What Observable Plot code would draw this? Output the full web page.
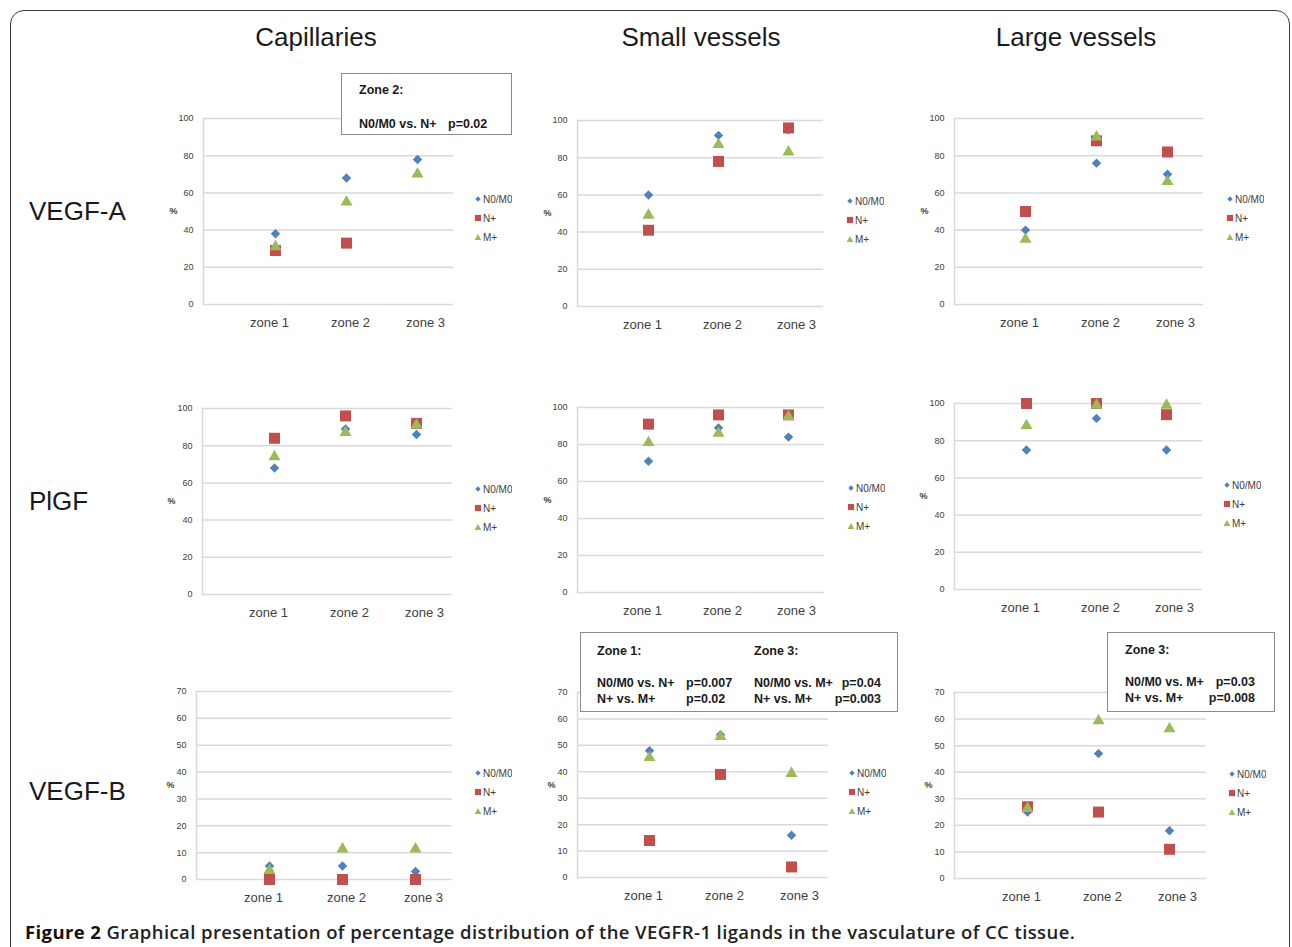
<!DOCTYPE html>
<html>
<head>
<meta charset="utf-8">
<script src="https://cdn.jsdelivr.net/npm/d3@7"></script>
<script src="https://cdn.jsdelivr.net/npm/@observablehq/plot@0.6"></script>
<style>
html, body { margin: 0; padding: 0; background: #fff; }
body { width: 1292px; height: 947px; overflow: hidden; position: relative; font-family: "Liberation Sans", Arial, sans-serif; }
#fig { position: absolute; left: 0; top: 0; width: 1292px; height: 947px; }
.border { position: absolute; left: 10px; top: 10px; width: 1280px; height: 980px; border: 1.5px solid #3a3a3a; border-radius: 14px; box-sizing: border-box; }
.coltitle { position: absolute; font-size: 26px; color: #1a1a1a; transform: translate(-50%, -50%); white-space: nowrap; }
.rowlabel { position: absolute; font-size: 26px; color: #1a1a1a; transform: translateY(-50%); white-space: nowrap; }
.panel { position: absolute; }
.legwrap { position: absolute; }
.leg-swatch { height: 19px; padding-bottom: 0; }
.leg-swatch > svg { margin-right: 1px; }
.note { position: absolute; background: #fff; border: 1.5px solid #8a8a8a; box-sizing: border-box; }
.notecol { position: absolute; font-weight: bold; font-size: 12.5px; color: #1a1a1a; white-space: nowrap; }
.noterow { display: flex; }
.caption { position: absolute; left: 25px; top: 931px; transform: translateY(-50%); font-family: "Open Sans", sans-serif; font-size: 18.5px; letter-spacing: 0.4px; font-weight: 600; color: #222; white-space: nowrap; }
.caption b { font-weight: 700; color: #111; }
</style>
</head>
<body>
<div id="fig"></div>
<script>
// ---------------- data ----------------
const zones = ["zone 1", "zone 2", "zone 3"];
const groups = ["N0/M0", "N+", "M+"];
const ligands = ["VEGF-A", "PlGF", "VEGF-B"];
const vessels = ["Capillaries", "Small vessels", "Large vessels"];
const ticksPct100 = [0, 20, 40, 60, 80, 100];
const ticksPct70 = [0, 10, 20, 30, 40, 50, 60, 70];

// values per panel: [N0/M0, N+, M+], each by zone 1..3 (%)
const vegfA_capillaries = [[38, 68, 78], [29, 33, null], [32, 56, 71]];
const vegfA_small       = [[60, 92, 95], [41, 78, 96], [50, 88, 84]];
const vegfA_large       = [[40, 76, 70], [50, 88, 82], [36, 91, 67]];
const plgf_capillaries  = [[68, 89, 86], [84, 96, 92], [75, 88, 92]];
const plgf_small        = [[71, 89, 84], [91, 96, 96], [82, 87, 96]];
const plgf_large        = [[75, 92, 75], [100, 100, 94], [89, 100, 100]];
const vegfB_capillaries = [[5, 5, 3], [0, 0, 0], [4, 12, 12]];
const vegfB_small       = [[48, 54, 16], [14, 39, 4], [46, 54, 40]];
const vegfB_large       = [[25, 47, 18], [27, 25, 11], [27, 60, 57]];

// annotation texts
const note1 = [{head: "Zone 2:", rows: [["N0/M0 vs. N+", "p=0.02"]]}];
const note2 = [
  {head: "Zone 1:", rows: [["N0/M0 vs. N+", "p=0.007"], ["N+ vs. M+", "p=0.02"]]},
  {head: "Zone 3:", rows: [["N0/M0 vs. M+", "p=0.04"], ["N+ vs. M+", "p=0.003"]]}
];
const note3 = [{head: "Zone 3:", rows: [["N0/M0 vs. M+", "p=0.03"], ["N+ vs. M+", "p=0.008"]]}];

const captionBold = "Figure 2";
const captionText = " Graphical presentation of percentage distribution of the VEGFR-1 ligands in the vasculature of CC tissue.";

// ---------------- style / layout ----------------
const colors = ["#4F81BD", "#C0504D", "#9BBB59"];
const diamondSym = {draw(ctx, size) { const u = Math.sqrt(size) * 0.43; ctx.moveTo(0, -u); ctx.lineTo(u, 0); ctx.lineTo(0, u); ctx.lineTo(-u, 0); ctx.closePath(); }};
const squareSym = {draw(ctx, size) { const h = Math.sqrt(size) / 2; ctx.rect(-h, -h, 2 * h, 2 * h); }};
const triangleSym = {draw(ctx, size) { const u = Math.sqrt(size); ctx.moveTo(0, -0.47 * u); ctx.lineTo(0.55 * u, 0.47 * u); ctx.lineTo(-0.55 * u, 0.47 * u); ctx.closePath(); }};
const symbols = [diamondSym, squareSym, triangleSym];

const panelData = [vegfA_capillaries, vegfA_small, vegfA_large, plgf_capillaries, plgf_small, plgf_large, vegfB_capillaries, vegfB_small, vegfB_large];
const panelTicks = [ticksPct100, ticksPct100, ticksPct100, ticksPct100, ticksPct100, ticksPct100, ticksPct70, ticksPct70, ticksPct70];
// plotting-area frames [left, top, right, bottom]
const frames = [
  [203, 118, 453, 304], [577, 120, 823, 306], [954, 118, 1203, 304],
  [202, 408, 452, 594], [577, 407, 824, 592], [954, 403, 1202, 589],
  [196, 691, 452, 879], [577, 692, 828, 877], [954, 692, 1206, 878]
];
const pctDx = [-34, -34, -34, -35, -34, -35, -30, -30, -30];
const legendPos = [[478, 199], [850, 201], [1230, 199], [478, 489], [851, 488], [1227, 485], [478, 773], [852, 773], [1232, 774]];
const labelDx = [-6, 4, 8];
const colTitlePos = [[316, 37], [701, 37], [1076, 37]];
const rowLabelPos = [[29, 211], [29, 501], [29, 791]];
const notes = [
  {texts: note1, box: [341, 73, 512, 135], top: 8, lh: 17, cols: [{left: 17, width: 89, align: "start"}]},
  {texts: note2, box: [580, 632, 898, 712], top: 10, lh: 16, cols: [{left: 16, width: 89, align: "start"}, {left: 173, width: 127, align: "end"}]},
  {texts: note3, box: [1107, 632, 1275, 712], top: 9, lh: 16, cols: [{left: 17, width: 130, align: "end"}]}
];

const fig = document.getElementById("fig");
const border = document.createElement("div");
border.className = "border";
fig.appendChild(border);

vessels.forEach((v, i) => {
  const d = document.createElement("div");
  d.className = "coltitle";
  d.textContent = v;
  d.style.left = colTitlePos[i][0] + "px";
  d.style.top = colTitlePos[i][1] + "px";
  fig.appendChild(d);
});
ligands.forEach((l, i) => {
  const d = document.createElement("div");
  d.className = "rowlabel";
  d.textContent = l;
  d.style.left = rowLabelPos[i][0] + "px";
  d.style.top = rowLabelPos[i][1] + "px";
  fig.appendChild(d);
});

const mL = 50, mR = 8, mT = 10, mB = 36;
panelData.forEach((vals, i) => {
  const [L, T, R, B] = frames[i];
  const W = R - L, H = B - T;
  const ticks = panelTicks[i];
  const rows = [];
  groups.forEach((g, si) => zones.forEach((z, zi) => {
    const v = vals[si][zi];
    if (v != null) rows.push({group: g, zone: z, value: v});
  }));
  const plot = Plot.plot({
    width: W + mL + mR,
    height: H + mT + mB,
    marginLeft: mL, marginRight: mR, marginTop: mT, marginBottom: mB,
    style: {fontFamily: "'Liberation Sans', Arial, sans-serif", color: "#404040", background: "transparent", overflow: "visible"},
    x: {type: "point", domain: zones, padding: 0, insetLeft: W * 0.286, insetRight: W * 0.143},
    y: {domain: [ticks[0], ticks[ticks.length - 1]]},
    color: {domain: groups, range: colors},
    symbol: {domain: groups, range: symbols},
    marks: [
      Plot.ruleY(ticks, {stroke: "#d9d9d9", strokeWidth: 1.5}),
      Plot.frame({anchor: "left", stroke: "#d9d9d9", strokeWidth: 1.5}),
      Plot.axisY({ticks, tickSize: 0, tickPadding: 10, fontSize: 9, label: null}),
      ...zones.map((z, k) => Plot.axisX([z], {tickSize: 0, tickPadding: 13, dx: labelDx[k], fontSize: 13, label: null})),
      Plot.text(["%"], {text: d => d, frameAnchor: "left", dx: pctDx[i], fontSize: 9, fontWeight: "bold"}),
      Plot.dot(rows, {x: "zone", y: "value", fill: "group", symbol: "group", r: 6.2, stroke: "none"})
    ]
  });
  const wrap = document.createElement("div");
  wrap.className = "panel";
  wrap.style.left = (L - mL) + "px";
  wrap.style.top = (T - mT) + "px";
  wrap.appendChild(plot);
  fig.appendChild(wrap);

  const leg = plot.legend("symbol", {
    columns: 1, swatchSize: 8, r: 7, fill: "color", stroke: "none", className: "leg",
    style: {fontFamily: "'Liberation Sans', Arial, sans-serif", fontSize: "10px", color: "#404040", margin: "0"}
  });
  const lw = document.createElement("div");
  lw.className = "legwrap";
  lw.style.left = (legendPos[i][0] - 4) + "px";
  lw.style.top = (legendPos[i][1] - 9.5) + "px";
  if (leg) lw.appendChild(leg);
  fig.appendChild(lw);
});

notes.forEach(n => {
  const [L, T, R, B] = n.box;
  const box = document.createElement("div");
  box.className = "note";
  box.style.left = L + "px";
  box.style.top = T + "px";
  box.style.width = (R - L) + "px";
  box.style.height = (B - T) + "px";
  n.texts.forEach((col, ci) => {
    const lay = n.cols[ci];
    const c = document.createElement("div");
    c.className = "notecol";
    c.style.left = lay.left + "px";
    c.style.top = n.top + "px";
    c.style.lineHeight = n.lh + "px";
    const h = document.createElement("div");
    h.textContent = col.head;
    c.appendChild(h);
    const blank = document.createElement("div");
    blank.innerHTML = "&nbsp;";
    c.appendChild(blank);
    col.rows.forEach(([a, p]) => {
      const r = document.createElement("div");
      r.className = "noterow";
      const s1 = document.createElement("span");
      s1.textContent = a;
      const s2 = document.createElement("span");
      s2.textContent = p;
      if (lay.align === "start") {
        s1.style.width = lay.width + "px";
        s1.style.display = "inline-block";
      } else {
        r.style.width = lay.width + "px";
        r.style.justifyContent = "space-between";
      }
      r.appendChild(s1);
      r.appendChild(s2);
      c.appendChild(r);
    });
    box.appendChild(c);
  });
  fig.appendChild(box);
});

const cap = document.createElement("div");
cap.className = "caption";
const b = document.createElement("b");
b.textContent = captionBold;
cap.appendChild(b);
cap.appendChild(document.createTextNode(captionText));
fig.appendChild(cap);
</script>
</body>
</html>
